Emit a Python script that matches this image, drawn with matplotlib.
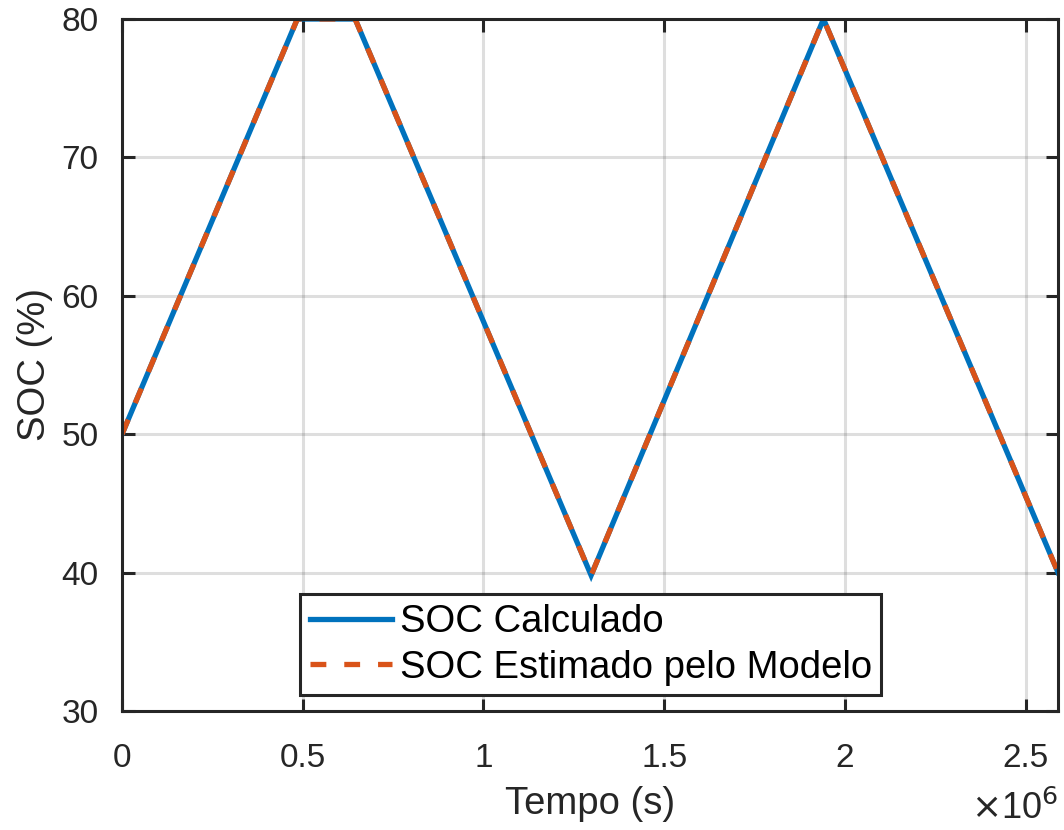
import numpy as np
import matplotlib.pyplot as plt
from matplotlib.ticker import FuncFormatter

plt.rcParams['font.family'] = ['Liberation Sans', 'DejaVu Sans']

# pontos de quebra das curvas (s, %)
tempo = [0, 0.485e6, 0.645e6, 1.298e6, 1.941e6, 2.59e6]
soc_calculado = [50, 80, 80, 39.8, 80, 40]
soc_estimado = [50, 80, 80, 39.8, 80, 40]
xticks = [0, 0.5e6, 1.0e6, 1.5e6, 2.0e6, 2.5e6]
yticks = [30, 40, 50, 60, 70, 80]

fig = plt.figure(figsize=(10.64, 8.30), dpi=100)
ax = fig.add_axes([0.1147, 0.1434, 0.8797, 0.8337])

ax.plot(tempo, soc_calculado, color='#0072BD', lw=3.8, label='SOC Calculado',
        solid_joinstyle='miter')
ax.plot(tempo, soc_estimado, color='#D95319', lw=3.8, ls=(0, (3.0, 3.4)),
        label='SOC Estimado pelo Modelo')

ax.set_xlim(0, 2.59e6)
ax.set_ylim(30, 80)
ax.set_xticks(xticks)
ax.set_yticks(yticks)
ax.xaxis.set_major_formatter(FuncFormatter(lambda v, p: ('%g' % (v / 1e6))))
ax.grid(True, color='#262626', alpha=0.15, lw=2.2)
ax.set_axisbelow(True)

for s in ax.spines.values():
    s.set_color('#262626')
    s.set_linewidth(2.2)
ax.tick_params(direction='in', length=9, width=2.2, colors='#262626',
               labelsize=24, top=True, right=True)
ax.tick_params(axis='x', pad=23)
ax.tick_params(axis='y', pad=17)

ax.set_xlabel('Tempo (s)', fontsize=27.5, color='#262626', labelpad=9)
ax.set_ylabel('SOC (%)', fontsize=27.5, color='#262626', labelpad=6)
fig.text(0.995, 0.004, r'$\times$10$^6$', ha='right', va='bottom',
         fontsize=26, color='#262626')

leg = ax.legend(loc='lower center', bbox_to_anchor=(0.501, 0.023), fontsize=27.5,
                handlelength=2.15, handletextpad=0.2, frameon=True, fancybox=False,
                borderaxespad=0, borderpad=0.25, labelspacing=0.25)
leg.get_frame().set_edgecolor('#262626')
leg.get_frame().set_linewidth(2.2)
leg.get_frame().set_alpha(1)

fig.savefig('out.png', dpi=100)
